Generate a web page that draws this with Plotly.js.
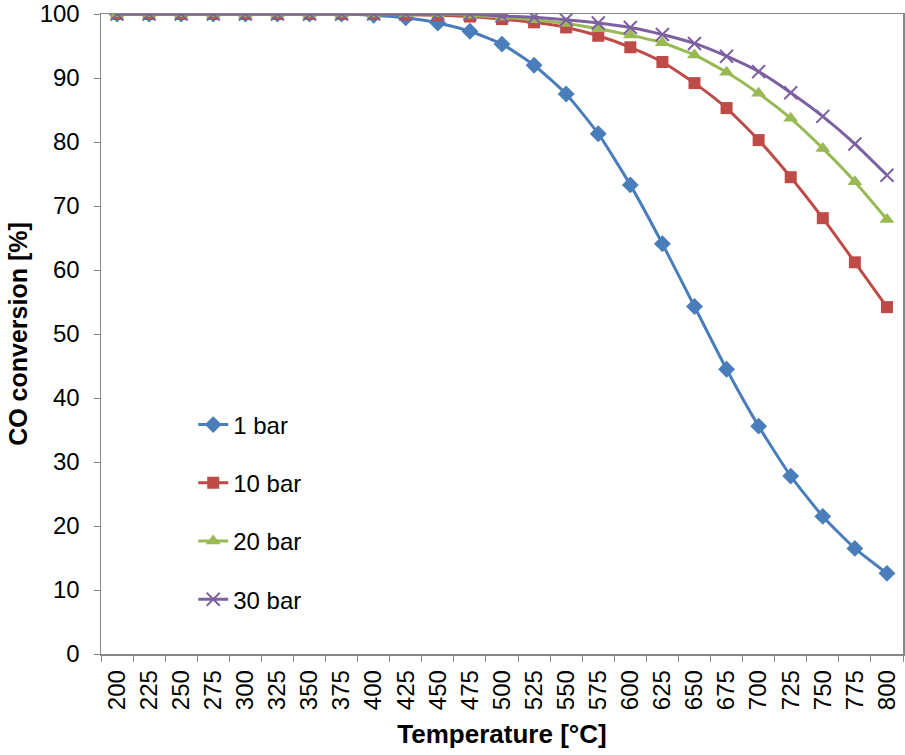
<!DOCTYPE html>
<html>
<head>
<meta charset="utf-8">
<script src="https://cdn.plot.ly/plotly-3.0.1.min.js"></script>
<style>html,body{margin:0;padding:0;background:#fff;}#chart{width:905px;height:755px;}</style>
</head>
<body>
<div id="chart"></div>
<script>
const temperatures = ['200','225','250','275','300','325','350','375','400','425','450','475','500','525','550','575','600','625','650','675','700','725','750','775','800'];
const seriesNames = ['1 bar','10 bar','20 bar','30 bar'];
const conv1bar  = [100,100,100,100,100,100,100,100,99.8,99.4,98.6,97.3,95.3,92.0,87.5,81.3,73.3,64.1,54.3,44.5,35.6,27.8,21.5,16.5,12.6];
const conv10bar = [100,100,100,100,100,100,100,100,100,99.9,99.8,99.6,99.2,98.7,97.9,96.6,94.8,92.5,89.2,85.3,80.3,74.5,68.1,61.2,54.2];
const conv20bar = [100,100,100,100,100,100,100,100,100,100,100,99.8,99.5,99.1,98.5,97.7,96.7,95.5,93.6,90.9,87.6,83.7,79.0,73.8,67.9];
const conv30bar = [100,100,100,100,100,100,100,100,100,100,100,100,99.7,99.5,99.1,98.6,97.9,96.8,95.4,93.4,91.0,87.7,84.0,79.7,74.8];
const yTicks = [0,10,20,30,40,50,60,70,80,90,100];

const colors = ['#4A7EBB','#BE4B48','#98B954','#7D60A0'];
const markers = [
  {symbol:'diamond', size:13},
  {symbol:'square', size:12},
  {symbol:'triangle-up', size:13},
  {symbol:'x-thin-open', size:13}
];
const values = [conv1bar, conv10bar, conv20bar, conv30bar];

const traces = values.map((v,i) => ({
  x: temperatures,
  y: v,
  name: seriesNames[i],
  legendgroup: 'g'+i,
  type: 'scatter',
  mode: 'lines+markers',
  line: {color: colors[i], width: 3, shape: 'spline', smoothing: 0.5},
  marker: Object.assign({color: colors[i], line: {color: colors[i], width: i===3 ? 2 : 0}}, markers[i])
}));

const layout = {
  width: 905, height: 755,
  margin: {l: 101, r: 2, t: 14, b: 101},
  paper_bgcolor: '#fff', plot_bgcolor: '#fff',
  font: {family: 'Liberation Sans, Arial, sans-serif', size: 24, color: '#000'},
  showlegend: true,
  legend: {x: 0.115, y: 0.393, xanchor: 'left', yanchor: 'top', bgcolor: 'rgba(0,0,0,0)',
           font: {size: 24}, tracegroupgap: 24},
  xaxis: {
    type: 'category',
    range: [-0.5, 24.5],
    tickangle: -90,
    ticks: 'outside', ticklen: 6, tickcolor: '#868686', tickson: 'boundaries',
    ticklabelstandoff: 5,
    showline: true, linecolor: '#868686', linewidth: 1.5, mirror: true,
    showgrid: false, zeroline: false,
    tickfont: {size: 24},
    title: {text: '<b>Temperature [°C]</b>', font: {size: 26}, standoff: 15}
  },
  yaxis: {
    range: [0, 100],
    tickvals: yTicks,
    ticks: 'outside', ticklen: 6, tickcolor: '#868686',
    ticklabelstandoff: 9,
    showline: true, linecolor: '#868686', linewidth: 1.5, mirror: true,
    showgrid: false, zeroline: false,
    tickfont: {size: 24},
    title: {text: '<b>CO conversion [%]</b>', font: {size: 25}, standoff: 5}
  }
};

Plotly.newPlot('chart', traces, layout, {displayModeBar: false, staticPlot: true});
</script>
</body>
</html>
